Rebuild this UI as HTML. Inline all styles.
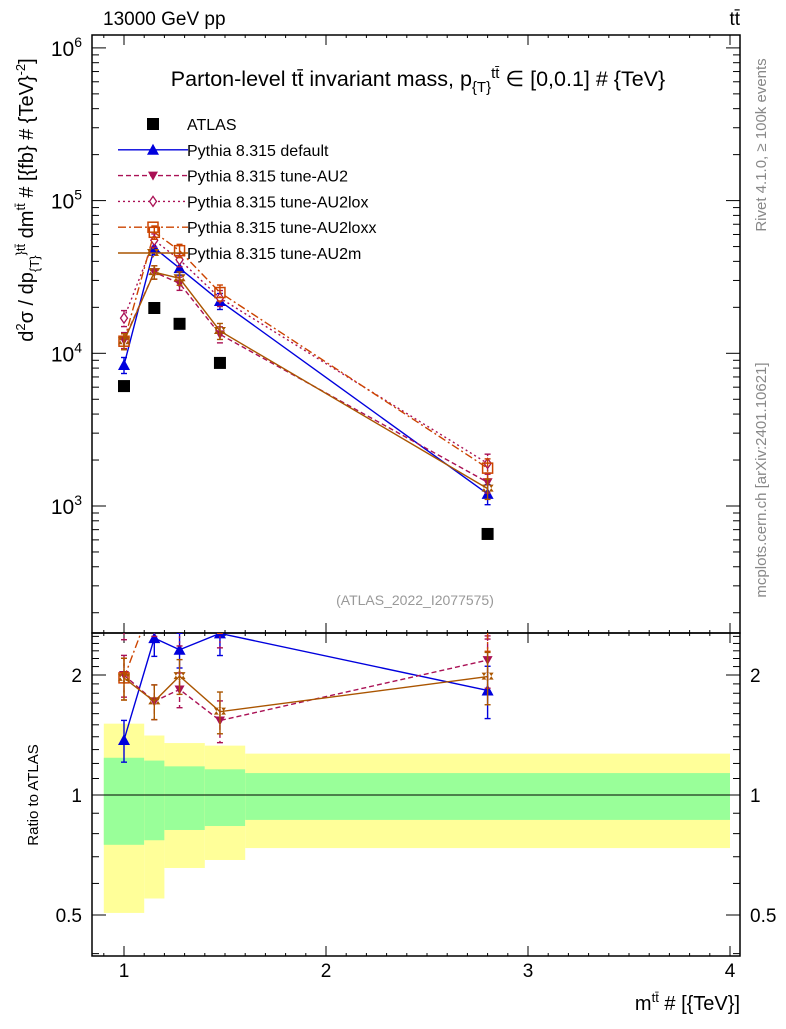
<!DOCTYPE html>
<html><head><meta charset="utf-8"><style>
body{margin:0;background:#fff;}
svg text{font-family:"Liberation Sans",sans-serif;}
</style></head><body>
<svg id="c" width="786" height="1024" xmlns="http://www.w3.org/2000/svg"></svg>
<script>
const xCenters=[1.0,1.15,1.275,1.475,2.8];
const binEdges=[0.9,1.1,1.2,1.4,1.6,4.0];
const atlas=[6100,19800,15600,8650,656];
const pDefault=[8380,49000,36100,22000,1200];
const pAU2=[12200,34000,28700,13300,1430];
const pAU2lox=[17000,55000,41000,23000,1900];
const pAU2loxx=[12000,62000,47000,25000,1770];
const pAU2m=[12000,34000,31000,14000,1300];
const yellowHi=[1.51,1.41,1.35,1.33,1.27];
const yellowLo=[0.506,0.55,0.656,0.687,0.736];
const greenHi=[1.24,1.22,1.18,1.16,1.135];
const greenLo=[0.75,0.77,0.817,0.836,0.866];
const relErr=[0.12,0.1,0.1,0.12,0.15];
const xTicks=[1,2,3,4];

const NS="http://www.w3.org/2000/svg";
const svg=document.getElementById('c');
const L=92,R=740,T1=35,B1=633,B2=956;
const X=v=>124+(v-1)*202;
const Y=v=>506-(Math.log10(v)-3)*152.7;
const YR=v=>795-Math.log10(v)*398.6;
function el(t,a,p){const e=document.createElementNS(NS,t);for(const k in a)e.setAttribute(k,a[k]);(p||svg).appendChild(e);return e;}
function txt(s,a,p){const e=el('text',a,p);e.textContent=s;return e;}

const bands=el('g',{});


for(let i=0;i<xCenters.length;i++){
  const x0=X(binEdges[i]),x1=X(binEdges[i+1]);
  const y=el('rect',{x:x0,y:YR(yellowHi[i]),width:x1-x0,height:YR(yellowLo[i])-YR(yellowHi[i]),fill:'#ffff99'},bands);
  
  
  const g=el('rect',{x:x0,y:YR(greenHi[i]),width:x1-x0,height:YR(greenLo[i])-YR(greenHi[i]),fill:'#99ff99'},bands);
  
  
}
el('line',{x1:L,x2:R,y1:YR(1),y2:YR(1),stroke:'#000','stroke-width':1});

el('rect',{x:L,y:T1,width:R-L,height:B1-T1,fill:'none',stroke:'#000','stroke-width':1.5});
el('rect',{x:L,y:B1,width:R-L,height:B2-B1,fill:'none',stroke:'#000','stroke-width':1.5});

for(let v=0.9;v<=4.05;v=Math.round((v+0.1)*10)/10){
  const major=Math.abs(v-Math.round(v))<1e-6;const h=major?10:3;const x=X(v);
  el('line',{x1:x,x2:x,y1:B1,y2:B1-h,stroke:'#000'});
  el('line',{x1:x,x2:x,y1:T1,y2:T1+h,stroke:'#000'});
  el('line',{x1:x,x2:x,y1:B2,y2:B2-h,stroke:'#000'});
  el('line',{x1:x,x2:x,y1:B1,y2:B1+h,stroke:'#000'});
}
xTicks.forEach(v=>{const t=txt(String(v),{x:X(v),y:977,'font-size':19,'text-anchor':'middle'});
});

for(let d=2;d<=6;d++)for(let m=1;m<10;m++){
  const v=m*Math.pow(10,d);const y=Y(v);if(y<T1||y>B1)continue;const h=m==1?14:7;
  el('line',{x1:L,x2:L+h,y1:y,y2:y,stroke:'#000'});el('line',{x1:R,x2:R-h,y1:y,y2:y,stroke:'#000'});
}
[3,4,5,6].forEach(d=>{const t=el('text',{x:82,y:Y(Math.pow(10,d))+8,'font-size':21,'text-anchor':'end'});
t.innerHTML='10<tspan dy="-9" font-size="14">'+d+'</tspan>';
});
for(let v=0.4;v<=2.5;v=Math.round((v+0.1)*10)/10){
  const y=YR(v);if(y<B1||y>B2)continue;const h=[0.5,1,2].some(q=>Math.abs(q-v)<1e-6)?14:7;
  el('line',{x1:L,x2:L+h,y1:y,y2:y,stroke:'#000'});el('line',{x1:R,x2:R-h,y1:y,y2:y,stroke:'#000'});
}
[[0.5,'0.5'],[1,'1'],[2,'2']].forEach(([v,s])=>{
  const a=txt(s,{x:82,y:YR(v)+7,'font-size':19,'text-anchor':'end'});
  const b=txt(s,{x:750,y:YR(v)+7,'font-size':19});
});

const defs=el('defs',{});
const c1=el('clipPath',{id:'c1'},defs);el('rect',{x:L,y:T1,width:R-L,height:B1-T1},c1);
const c2=el('clipPath',{id:'c2'},defs);el('rect',{x:L,y:B1,width:R-L,height:B2-B1},c2);

function marker(g,kind,x,y,col){
  if(kind=='sq')el('rect',{x:x-6,y:y-6,width:12,height:12,fill:col},g);
  else if(kind=='tri')el('path',{d:`M${x-6},${y+5}L${x+6},${y+5}L${x},${y-6}Z`,fill:col},g);
  else if(kind=='itri')el('path',{d:`M${x-5},${y-4}L${x+5},${y-4}L${x},${y+5}Z`,fill:col},g);
  else if(kind=='dia')el('path',{d:`M${x},${y-5}L${x+3.5},${y}L${x},${y+5}L${x-3.5},${y}Z`,fill:'#fff',stroke:col,'stroke-width':1.3},g);
  else if(kind=='osq')el('rect',{x:x-5,y:y-5,width:10,height:10,fill:'none',stroke:col,'stroke-width':1.5},g);
  else if(kind=='star')el('path',{d:`M${x-6},${y-4}L${x+6},${y-4}L${x},${y+5}Z M${x-6},${y+3}L${x+6},${y+3}L${x},${y-6}Z`,fill:col},g);
}
const series=[
 {name:'pythia-default',vals:pDefault,col:'#0000dd',dash:'',mk:'tri'},
 {name:'pythia-au2',vals:pAU2,col:'#aa1155',dash:'5,3',mk:'itri'},
 {name:'pythia-au2lox',vals:pAU2lox,col:'#aa1155',dash:'2,3',mk:'dia'},
 {name:'pythia-au2loxx',vals:pAU2loxx,col:'#cc4400',dash:'8,3,2,3',mk:'osq'},
 {name:'pythia-au2m',vals:pAU2m,col:'#aa5500',dash:'',mk:'star'},
];
function drawSeries(s,ratio){
  const g=el('g',{'clip-path':ratio?'url(#c2)':'url(#c1)'});
  
  
  const yf=ratio?(v,i)=>YR(v/atlas[i]):(v)=>Y(v);
  const pts=s.vals.map((v,i)=>[X(xCenters[i]),yf(v,i)]);
  el('polyline',{points:pts.map(p=>p.join(',')).join(' '),fill:'none',stroke:s.col,'stroke-width':1.4,'stroke-dasharray':s.dash},g);
  s.vals.forEach((v,i)=>{const x=X(xCenters[i]);
    const y1=yf(v*(1+relErr[i]),i),y2=yf(v*(1-relErr[i]),i);
    el('line',{x1:x,x2:x,y1:y1,y2:y2,stroke:s.col,'stroke-width':1.4,'stroke-dasharray':s.dash},g);
    el('line',{x1:x-3,x2:x+3,y1:y1,y2:y1,stroke:s.col,'stroke-width':1.4},g);
    el('line',{x1:x-3,x2:x+3,y1:y2,y2:y2,stroke:s.col,'stroke-width':1.4},g);
    marker(g,s.mk,x,yf(v,i),s.col);});
}
series.forEach(s=>{drawSeries(s,false);drawSeries(s,true);});
const ag=el('g',{});
atlas.forEach((v,i)=>marker(ag,'sq',X(xCenters[i]),Y(v),'#000'));

const lg=el('g',{});
const labels=['ATLAS','Pythia 8.315 default','Pythia 8.315 tune-AU2','Pythia 8.315 tune-AU2lox','Pythia 8.315 tune-AU2loxx','Pythia 8.315 tune-AU2m'];
labels.forEach((s,i)=>{const y=124+i*25.8;
  const e=el('g',{},lg);
  if(i==0)marker(e,'sq',153,y,'#000');
  else{const sr=series[i-1];el('line',{x1:118,x2:188,y1:y,y2:y,stroke:sr.col,'stroke-width':1.4,'stroke-dasharray':sr.dash},e);marker(e,sr.mk,153,y,sr.col);}
  txt(s,{x:187,y:y+6,'font-size':16},e);});

const t=[['13000 GeV pp',{x:103,y:25,'font-size':19},'beam-label'],
['(ATLAS_2022_I2077575)',{x:415,y:605,'font-size':14,fill:'#999','text-anchor':'middle'},'analysis-id']];
t.forEach(([s,a,n])=>{const e=txt(s,a);});
let e=el('text',{x:740,y:25,'font-size':19,'text-anchor':'end'});e.innerHTML='tt&#772;';
e=el('text',{x:418,y:86,'font-size':21.5,'text-anchor':'middle'});
e.innerHTML='Parton-level tt&#772; invariant mass, p<tspan dy="6" font-size="15">{T}</tspan><tspan dy="-14" font-size="15">tt&#772;</tspan><tspan dy="8"> ∈ [0,0.1] # {TeV}</tspan>';

e=el('text',{transform:'translate(33,200) rotate(-90)','font-size':20,'text-anchor':'middle'});
e.innerHTML='d<tspan dy="-8" font-size="13">2</tspan><tspan dy="8">σ / dp</tspan><tspan dy="6" font-size="13">{T}</tspan><tspan dy="-14" font-size="13">}tt&#772;</tspan><tspan dy="8"> dm</tspan><tspan dy="-8" font-size="13">tt&#772;</tspan><tspan dy="8"> # [{fb} # {TeV}</tspan><tspan dy="-8" font-size="13">-2</tspan><tspan dy="8">]</tspan>';

e=txt('Ratio to ATLAS',{transform:'translate(38,795) rotate(-90)','font-size':15,'text-anchor':'middle'});

e=el('text',{x:740,y:1010,'font-size':20,'text-anchor':'end'});
e.innerHTML='m<tspan dy="-8" font-size="13">tt&#772;</tspan><tspan dy="8"> # [{TeV}]</tspan>';

e=txt('Rivet 4.1.0, ≥ 100k events',{transform:'translate(766,145) rotate(-90)','font-size':15,fill:'#888','text-anchor':'middle'});

e=txt('mcplots.cern.ch [arXiv:2401.10621]',{transform:'translate(766,480) rotate(-90)','font-size':15,fill:'#888','text-anchor':'middle'});

</script>
</body></html>
